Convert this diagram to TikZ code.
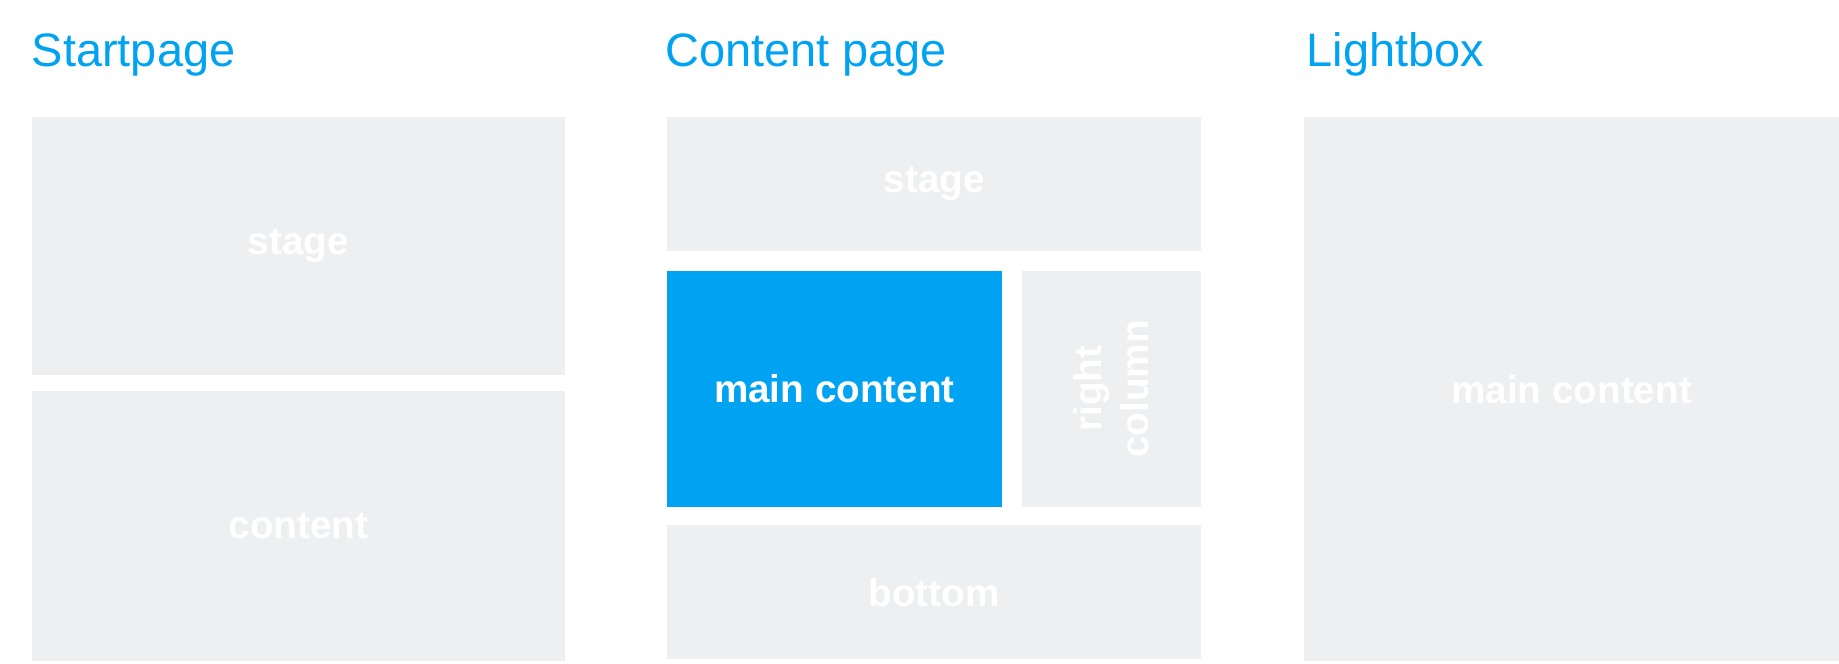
\documentclass[tikz,border=0pt]{standalone}
\usepackage{fontspec}
\setmainfont{Liberation Sans}
\definecolor{boxgray}{HTML}{EEEFF1}
\definecolor{blu}{HTML}{00A2F2}
\begin{document}
\begin{tikzpicture}[x=1pt,y=-1pt,
  box/.style={fill=boxgray,draw=none,inner sep=0},
  lbl/.style={text=white,font=\fontsize{33}{36}\selectfont\bfseries},
  ttl/.style={anchor=base west,text=blu,inner sep=0,font=\fontsize{40}{44}\selectfont}]
\useasboundingbox[fill=white] (0,0) rectangle (1568,566);
\node[ttl] (t1) at (27,57) {Startpage};
\node[ttl] (t2) at (567,57) {Content page};
\node[ttl] (t3) at (1114,57) {Lightbox};
\fill[boxgray] (27,100) rectangle (482,320) node[lbl,midway] (s1) {stage};
\fill[boxgray] (27,333) rectangle (482,564) node[lbl,midway] (s2) {content};
\fill[boxgray] (569,100) rectangle (1024,214) node[lbl,midway] (c1) {stage};
\fill[blu] (569,231) rectangle (854,432) node[lbl,midway] (c2) {main content};
\fill[boxgray] (871,231) rectangle (1024,432) node[lbl,midway,rotate=90,align=center,font=\fontsize{33}{40}\selectfont\bfseries] (c3) {right\\column};
\fill[boxgray] (569,448) rectangle (1024,562) node[lbl,midway] (c4) {bottom};
\fill[boxgray] (1112,100) rectangle (1568,564) node[lbl,midway] (l1) {main content};
\end{tikzpicture}
\end{document}
